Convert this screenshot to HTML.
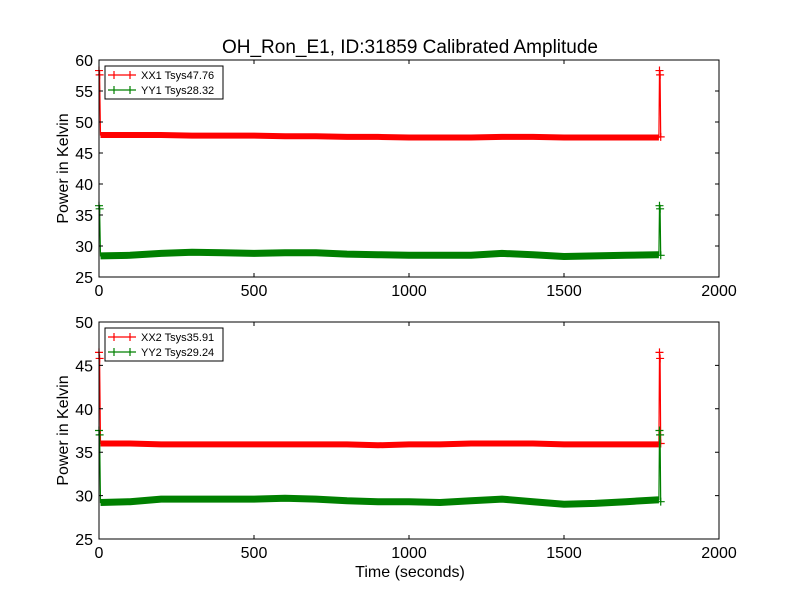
<!DOCTYPE html>
<html><head><meta charset="utf-8"><style>
body{margin:0;background:#fff;}
svg{display:block;font-family:"Liberation Sans","DejaVu Sans",sans-serif;}
</style></head><body>
<svg id="chart" width="800" height="600"></svg>
<script>
const times = [0,2,5,100,200,300,400,500,600,700,800,900,1000,1100,1200,1300,1400,1500,1600,1700,1800,1806,1808,1810,1812,1815];
const xx1 = [58.3,57.6,47.9,47.9,47.9,47.8,47.8,47.8,47.7,47.7,47.6,47.6,47.5,47.5,47.5,47.6,47.6,47.5,47.5,47.5,47.5,47.5,58.3,57.6,47.6,47.6];
const yy1 = [36.5,36.0,28.4,28.5,28.8,29.0,28.9,28.8,28.9,28.9,28.7,28.6,28.5,28.5,28.5,28.8,28.6,28.3,28.4,28.5,28.6,28.6,36.5,36.0,28.5,28.5];
const xx2 = [46.5,45.8,36.0,36.0,35.9,35.9,35.9,35.9,35.9,35.9,35.9,35.8,35.9,35.9,36.0,36.0,36.0,35.9,35.9,35.9,35.9,35.9,46.5,45.8,36.0,36.0];
const yy2 = [37.5,37.0,29.2,29.3,29.6,29.6,29.6,29.6,29.7,29.6,29.4,29.3,29.3,29.2,29.4,29.6,29.3,29.0,29.1,29.3,29.5,29.5,37.5,37.0,29.3,29.3];
const xTicks = [0,500,1000,1500,2000];
const yTicksTop = [25,30,35,40,45,50,55,60];
const yTicksBot = [25,30,35,40,45,50];
const spikeIdx = [0,1,22,23,24];

const NS="http://www.w3.org/2000/svg";
const svg=document.getElementById('chart');
function mk(t,a,p){const e=document.createElementNS(NS,t);for(const k in a)e.setAttribute(k,a[k]);(p||svg).appendChild(e);return e;}
const L=99,R=719;
function xs(t){return L+(t-0)/2000*(R-L);}

function panel(top,bot,ymin,ymax,yticks,s1,s2,n1,n2,name){
  const g=mk('g',{});
  
  
  const ys=v=>bot-(v-ymin)/(ymax-ymin)*(bot-top);
  function series(vals,col,nm,w){
    const pts=times.map((t,i)=>xs(t).toFixed(1)+','+ys(vals[i]).toFixed(1)).join(' ');
    const band=mk('polyline',{points:pts,fill:'none',stroke:col,'stroke-width':w,'stroke-linejoin':'miter'},g);
    
    
    const thin=times.map((t,i)=>xs(t).toFixed(1)+','+ys(vals[i]).toFixed(1)).join(' ');
    spikeIdx.forEach(i=>{
      const x=xs(times[i]),y=ys(vals[i]);
      const m=mk('path',{d:`M${x-4},${y}H${x+4}M${x},${y-4}V${y+4}`,stroke:col,'stroke-width':1.2},g);
      
      
    });
    mk('polyline',{points:thin,fill:'none',stroke:col,'stroke-width':1},g);
  }
  // spike lines drawn thin, band thick: split
  function seriesSplit(vals,col,nm,w){
    const mid=times.map((t,i)=>[t,vals[i]]).slice(2,22);
    const pts=mid.map(p=>xs(p[0]).toFixed(1)+','+ys(p[1]).toFixed(1)).join(' ');
    const band=mk('polyline',{points:pts,fill:'none',stroke:col,'stroke-width':w},g);
    
    
    const all=times.map((t,i)=>xs(t).toFixed(1)+','+ys(vals[i]).toFixed(1)).join(' ');
    mk('polyline',{points:all,fill:'none',stroke:col,'stroke-width':1.2},g);
    spikeIdx.forEach(i=>{
      const x=xs(times[i]),y=ys(vals[i]);
      const m=mk('path',{d:`M${x-4},${y}H${x+4}M${x},${y-4}V${y+4}`,stroke:col,'stroke-width':1.2},g);
      
      
    });
  }
  seriesSplit(s1,'#ff0000',n1.split(' ')[0].toLowerCase(),6);
  seriesSplit(s2,'#008000',n2.split(' ')[0].toLowerCase(),7);
  const fr=mk('rect',{x:L,y:top,width:R-L,height:bot-top,fill:'none',stroke:'#000','stroke-width':1},g);
  
  
  xTicks.forEach(t=>{
    const x=xs(t);
    mk('path',{d:`M${x},${bot}v-4M${x},${top}v4`,stroke:'#000'},g);
    const tx=mk('text',{x:x,y:bot+19,'text-anchor':'middle','font-size':16},g);
    tx.textContent=t;
    
    
  });
  yticks.forEach(v=>{
    const y=ys(v);
    mk('path',{d:`M${L},${y}h4M${R},${y}h-4`,stroke:'#000'},g);
    const tx=mk('text',{x:L-6,y:y+6,'text-anchor':'end','font-size':16},g);
    tx.textContent=v;
    
    
  });
  const yl=mk('text',{x:0,y:0,'text-anchor':'middle','font-size':16,transform:`translate(68,${(top+bot)/2}) rotate(-90)`},g);
  yl.textContent='Power in Kelvin';
  
  
  // legend
  const lg=mk('g',{},g);
  
  
  mk('rect',{x:105,y:top+6,width:118,height:33,fill:'#fff',stroke:'#000'},lg);
  [[n1,'#ff0000'],[n2,'#008000']].forEach((e,i)=>{
    const y=top+15+i*15;
    const le=mk('g',{},lg);
    
    
    mk('path',{d:`M108,${y}h28M114,${y-4}v8M130,${y-4}v8`,stroke:e[1],'stroke-width':1.2},le);
    const t=mk('text',{x:141,y:y+4,'font-size':11},le);
    t.textContent=e[0];
  });
}
const title=mk('text',{x:410,y:53,'text-anchor':'middle','font-size':19});
title.textContent='OH_Ron_E1, ID:31859 Calibrated Amplitude';


panel(60,277,25,60,yTicksTop,xx1,yy1,'XX1 Tsys47.76','YY1 Tsys28.32','top-panel');
panel(322,539,25,50,yTicksBot,xx2,yy2,'XX2 Tsys35.91','YY2 Tsys29.24','bottom-panel');
const xl=mk('text',{x:410,y:577,'text-anchor':'middle','font-size':16});
xl.textContent='Time (seconds)';


</script>
</body></html>
